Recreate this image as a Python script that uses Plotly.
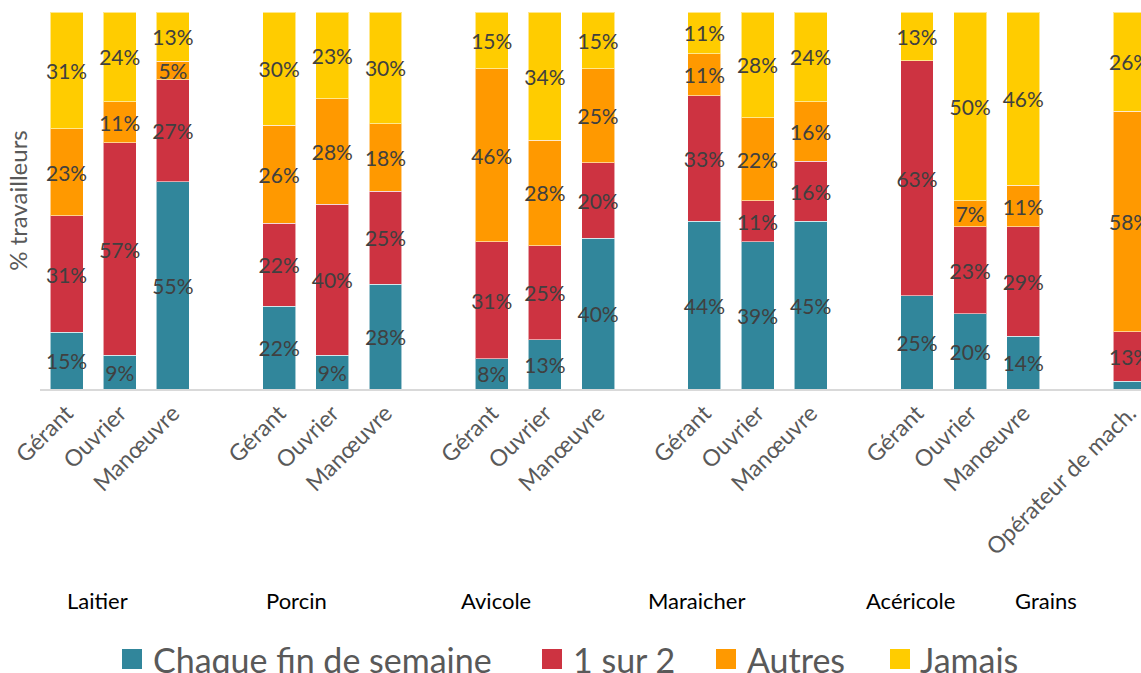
import plotly.graph_objects as go

# ---------------- data ----------------
groups = ["Laitier", "Porcin", "Avicole", "Maraicher", "Acéricole", "Grains"]
roles = [
    ["Gérant", "Ouvrier", "Manœuvre"],
    ["Gérant", "Ouvrier", "Manœuvre"],
    ["Gérant", "Ouvrier", "Manœuvre"],
    ["Gérant", "Ouvrier", "Manœuvre"],
    ["Gérant", "Ouvrier", "Manœuvre"],
    ["Opérateur de mach."],
]
series_names = ["Chaque fin de semaine", "1 sur 2", "Autres", "Jamais"]
chaque_fin = [15, 9, 55, 22, 9, 28, 8, 13, 40, 44, 39, 45, 25, 20, 14, 2]
un_sur_2 = [31, 57, 27, 22, 40, 25, 31, 25, 20, 33, 11, 16, 63, 23, 29, 13]
autres = [23, 11, 5, 26, 28, 18, 46, 28, 25, 11, 22, 16, 0, 7, 11, 58]
jamais = [31, 24, 13, 30, 23, 30, 15, 34, 15, 11, 28, 24, 13, 50, 46, 26]
series_values = [chaque_fin, un_sur_2, autres, jamais]
colors = ["#31869B", "#CD3341", "#FF9900", "#FFCC00"]

# ---------------- layout helpers ----------------
W_PX, H_PX = 1141, 673
L, T, B = 40, 12, 284
PW, PH = W_PX - L, H_PX - T - B
SLOT = 53.15  # pixel width of one category slot

def px_x(px):
    return (px - L) / PW

def px_y(py):
    return (T + PH - py) / PH

# category positions: one empty slot between groups
xpos, xtext = [], []
for g, rs in enumerate(roles):
    for r, name in enumerate(rs):
        xpos.append(g * 4 + r)
        xtext.append(name)

FONT = "Lato, 'Open Sans', sans-serif"

fig = go.Figure()
for name, vals, col in zip(series_names, series_values, colors):
    fig.add_trace(go.Bar(
        x=xpos, y=vals, name=name,
        marker=dict(color=col, line=dict(color="rgba(255,255,255,0.55)", width=1)),
        width=0.62,
        text=[f"{v}%" if v >= 5 else "" for v in vals],
        textposition="inside", insidetextanchor="middle",
        textangle=0, constraintext="none",
        textfont=dict(family=FONT, size=21, color="#404040"),
        showlegend=False,
    ))

x_max = -0.5 + PW / SLOT
fig.update_layout(
    width=W_PX, height=H_PX,
    barmode="stack", barnorm="percent",
    margin=dict(l=L, r=0, t=T, b=B, autoexpand=False),
    paper_bgcolor="white", plot_bgcolor="white",
    font=dict(family=FONT, color="#595959"),
    xaxis=dict(
        range=[-0.5, x_max], tickmode="array", tickvals=xpos, ticktext=xtext,
        tickangle=-45, tickfont=dict(family=FONT, size=23, color="#595959"),
        ticklabeloverflow="allow",
        showline=True, linecolor="#D9D9D9", linewidth=1.5,
        showgrid=False, zeroline=False, ticks="", automargin=False,
    ),
    yaxis=dict(
        range=[0, 100], showticklabels=False, showgrid=False, zeroline=False,
        showline=False, ticks="", automargin=False,
        title=dict(text="% travailleurs", font=dict(family=FONT, size=24, color="#595959"), standoff=4),
    ),
)

# group labels (pixel centres)
group_px = [97, 296, 496, 696, 910, 1046]
for gname, gx in zip(groups, group_px):
    fig.add_annotation(x=px_x(gx), y=px_y(600), xref="paper", yref="paper",
                       text=gname, showarrow=False, xanchor="center", yanchor="middle",
                       font=dict(family=FONT, size=22, color="#000000"))

# manual legend with large square swatches
legend_sq = [122, 542, 716, 890]
legend_tx = [151, 571, 745, 918]
for name, col, sx, tx in zip(series_names, colors, legend_sq, legend_tx):
    fig.add_shape(type="rect", xref="paper", yref="paper",
                  x0=px_x(sx), x1=px_x(sx + 20), y0=px_y(669), y1=px_y(649),
                  fillcolor=col, line=dict(width=0))
    fig.add_annotation(x=px_x(tx), y=px_y(659), xref="paper", yref="paper",
                       text=name, showarrow=False, xanchor="left", yanchor="middle",
                       font=dict(family=FONT, size=34, color="#595959"))

fig.write_html(
    "out.html",
    config={"displayModeBar": False},
    post_script="document.body.style.margin='0';document.body.style.overflow='hidden';",
)
